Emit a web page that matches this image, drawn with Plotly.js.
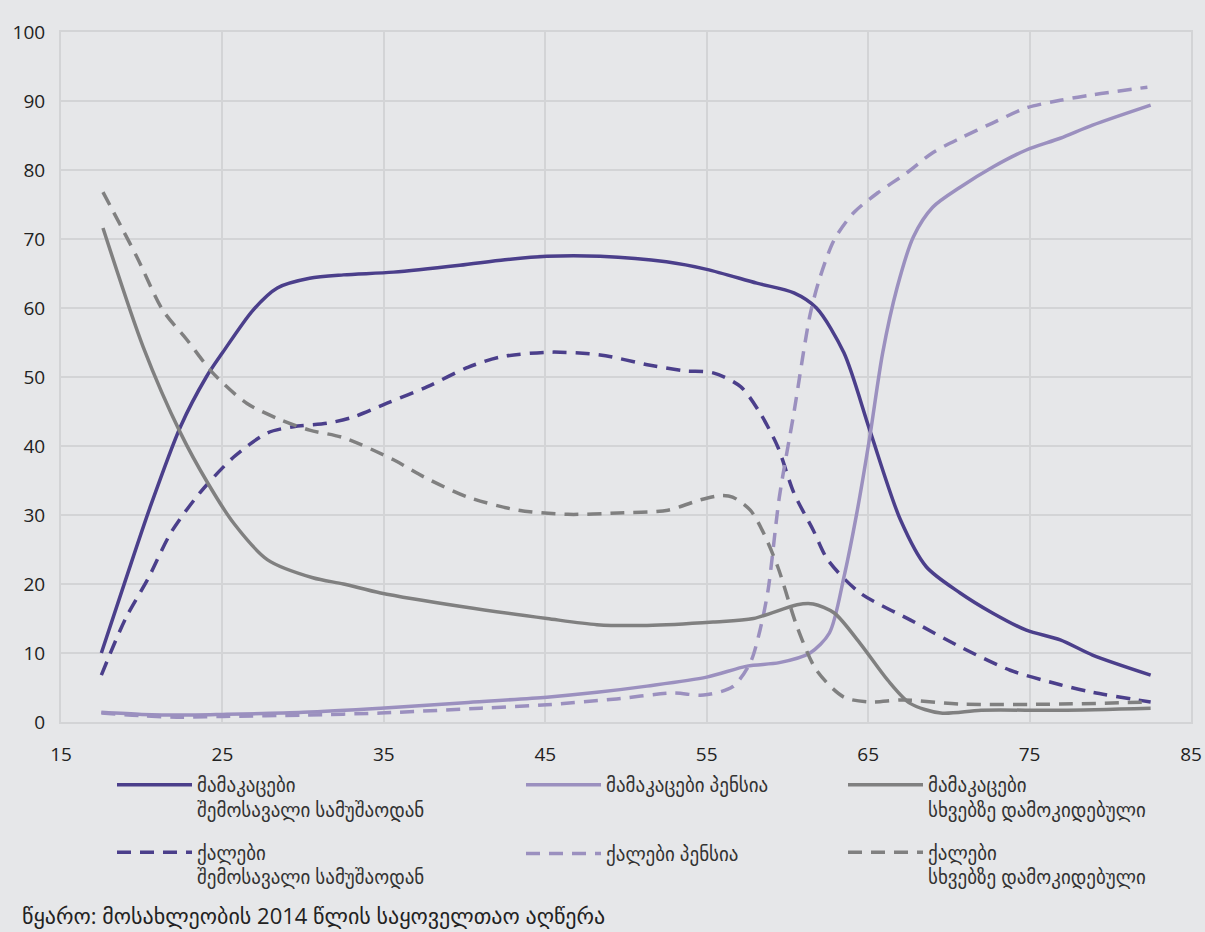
<!DOCTYPE html>
<html>
<head>
<meta charset="utf-8">
<script src="https://cdn.plot.ly/plotly-3.0.1.min.js"></script>
<style>
html,body{margin:0;padding:0;background:#e6e7e9;}
#chart{width:1205px;height:932px;}
</style>
</head>
<body>
<div id="chart"></div>
<script>
// Series names
const nameMenWork = "მამაკაცები<br>შემოსავალი სამუშაოდან";
const nameMenPension = "მამაკაცები პენსია";
const nameMenDep = "მამაკაცები<br>სხვებზე დამოკიდებული";
const nameWomenWork = "ქალები<br>შემოსავალი სამუშაოდან";
const nameWomenPension = "ქალები პენსია";
const nameWomenDep = "ქალები<br>სხვებზე დამოკიდებული";
const sourceText = "წყარო: მოსახლეობის 2014 წლის საყოველთაო აღწერა";

// Men – income from work
const menWorkAge = [17.5,19,20.5,22.4,24,25,26.9,28.4,30.4,32.5,35.6,39.7,42.5,45.1,48.4,52.5,55,58.1,60.4,61.8,63.5,65.1,67,68.6,70.7,72.7,74.8,76.9,78.9,82.5];
const menWorkVal = [10,20.6,31,42.8,50,53.5,59.7,62.9,64.3,64.8,65.2,66.2,67.0,67.5,67.5,66.7,65.6,63.6,62.2,60,53.5,42.3,29.3,22.5,18.7,15.8,13.3,11.9,9.7,6.8];

// Men – pension
const menPensionAge = [17.5,20,22.5,25,30,34.8,40,45.1,48.2,51.3,55,57.5,59.5,61.4,62.6,63.5,64.3,65.1,65.9,66.8,67.8,69,70.7,72.7,74.8,76.9,78.9,82.5];
const menPensionVal = [1.4,1.1,1.0,1.1,1.4,2.0,2.8,3.6,4.3,5.2,6.5,8.1,8.6,10.0,12.9,21,30.3,41.3,53.5,63,70.3,74.6,77.5,80.4,82.9,84.6,86.5,89.4];

// Men – dependent on others
const menDepAge = [17.6,20.1,22.4,24.1,25.7,27.8,30.6,32.5,34.8,39.9,45.1,48.2,51.3,55.4,57.9,60.6,61.6,62.9,64.5,66.2,67.6,69.5,72,76.9,82.5];
const menDepVal = [71.6,54.3,41.9,34.6,28.8,23.5,20.9,20.0,18.7,16.7,15.0,14.1,14.0,14.5,15.0,17.0,17.1,15.8,11.4,6.1,2.7,1.3,1.7,1.7,2.0];

// Women – income from work
const womenWorkAge = [17.5,19,20.4,21.8,23.6,25.7,27.8,29.4,31.5,33.1,35.2,37.7,40.2,42.2,45.3,48.4,51.5,53.6,55.4,57.1,58.3,59.4,60.4,61.6,62.5,64.5,67.6,70.7,73.8,76.9,78.9,82.5];
const womenWorkVal = [6.8,15,20.8,27.4,33.2,38.4,41.9,42.8,43.3,44.2,46.2,48.6,51.4,52.9,53.6,53.2,51.7,50.9,50.6,48.6,44.8,39.9,33.2,27.8,23.5,18.7,14.8,10.9,7.5,5.4,4.3,2.9];

// Women – pension
const womenPensionAge = [17.5,20,22.5,25,30,34.8,41,45.1,49.2,52.9,54.8,56.6,57.7,58.3,58.8,59.5,60.4,61.4,62,62.9,64.1,65.6,67.4,69,70.7,72.7,74.8,76.9,78.9,82.3];
const womenPensionVal = [1.3,0.9,0.7,0.8,1.0,1.3,2.0,2.5,3.3,4.2,3.9,5.1,8.6,13.3,19.1,32.6,44.8,59,64.3,69.9,73.8,76.7,79.6,82.5,84.6,86.8,89.0,90.1,90.9,92.0];

// Women – dependent on others
const womenDepAge = [17.6,19.7,21.3,22.8,24.4,26.5,28.6,30.4,32.5,35.6,37.5,40.2,43.3,46.4,49.5,52.6,54.6,55.8,56.6,57.7,58.5,59.4,60.6,61.8,63.5,65.1,67.2,70.7,76.9,82.5];
const womenDepVal = [76.8,67.4,59.7,55.4,50.6,46.2,43.8,42.3,41.2,38.0,35.5,32.6,30.7,30.1,30.3,30.7,32.2,32.8,32.6,30.7,27.5,22.5,13.8,7.5,3.6,2.9,3.2,2.6,2.6,2.9];

const xTicks = [15,25,35,45,55,65,75,85];
const yTicks = [0,10,20,30,40,50,60,70,80,90,100];

const cDark = "#4b3f8b";
const cLight = "#9b90bf";
const cGray = "#808080";
const dashPat = "14px,9px";
const lw = 3.5;

function tr(x, y, name, color, dash, legend, group) {
  return {
    type: "scatter", mode: "lines", x: x, y: y, name: name,
    legend: legend, legendgroup: group,
    line: {color: color, width: lw, dash: dash, shape: "spline", smoothing: 0.8},
    hoverinfo: "skip"
  };
}

const data = [
  tr(menWorkAge, menWorkVal, nameMenWork, cDark, "solid", "legend", "a"),
  tr(womenWorkAge, womenWorkVal, nameWomenWork, cDark, dashPat, "legend", "b"),
  tr(menPensionAge, menPensionVal, nameMenPension, cLight, "solid", "legend2", "c"),
  tr(womenPensionAge, womenPensionVal, nameWomenPension, cLight, dashPat, "legend2", "d"),
  tr(menDepAge, menDepVal, nameMenDep, cGray, "solid", "legend3", "e"),
  tr(womenDepAge, womenDepVal, nameWomenDep, cGray, dashPat, "legend3", "f")
];

const L = 61, R = 1191, T = 32, B = 722;
function px2paperX(px){ return (px - L) / (R - L); }
function py2paperY(py){ return (B - py) / (B - T); }

const legFont = {family: "'Open Sans', 'DejaVu Sans', sans-serif", size: 19, color: "#333"};
function legendCfg(xpx, gap) {
  return {
    x: px2paperX(xpx), y: py2paperY(766), xanchor: "left", yanchor: "top",
    orientation: "v", bgcolor: "rgba(0,0,0,0)", borderwidth: 0,
    font: legFont, valign: "top", traceorder: "grouped", tracegroupgap: gap,
    itemwidth: 75,
    itemclick: false, itemdoubleclick: false
  };
}

const gridColor = "#d3d4d6";
const layout = {
  width: 1205, height: 932,
  paper_bgcolor: "#e6e7e9", plot_bgcolor: "#e6e7e9",
  margin: {l: L, r: 1205 - R, t: T, b: 932 - B, pad: 0},
  font: {family: "'Open Sans', 'DejaVu Sans', sans-serif", color: "#222"},
  xaxis: {
    range: [15, 85], tickvals: xTicks, ticktext: xTicks.map(String),
    showgrid: true, gridcolor: gridColor, gridwidth: 2,
    zeroline: false, showline: true, linecolor: gridColor, linewidth: 2, mirror: true,
    ticks: "", tickfont: {size: 19, color: "#222"}, ticklabelstandoff: 14, fixedrange: true
  },
  yaxis: {
    range: [0, 100], tickvals: yTicks, ticktext: yTicks.map(String),
    showgrid: true, gridcolor: gridColor, gridwidth: 2,
    zeroline: false, showline: true, linecolor: gridColor, linewidth: 2, mirror: true,
    ticks: "", tickfont: {size: 19, color: "#222"}, ticklabelstandoff: 10, fixedrange: true
  },
  showlegend: true,
  legend: legendCfg(112, 15),
  legend2: legendCfg(521, 41),
  legend3: legendCfg(843, 15),
  annotations: [{
    text: sourceText, xref: "paper", yref: "paper",
    x: px2paperX(20), y: py2paperY(915), xanchor: "left", yanchor: "middle",
    showarrow: false, font: {family: "'Open Sans', 'DejaVu Sans', sans-serif", size: 22, color: "#222"}
  }]
};

Plotly.newPlot("chart", data, layout, {staticPlot: true, displayModeBar: false});
</script>
</body>
</html>
